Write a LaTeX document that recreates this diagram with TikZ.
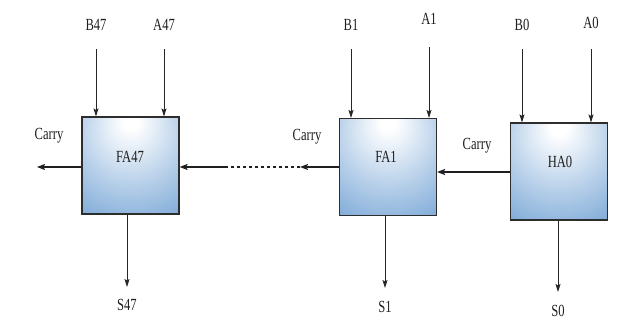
\documentclass[tikz,border=0pt]{standalone}
\usepackage{fontspec}
\setmainfont{Liberation Serif}
\usetikzlibrary{arrows.meta}

\definecolor{bshade}{RGB}{74,136,200}
\definecolor{edgegray}{RGB}{45,45,45}
\pgfdeclareradialshading{blockshade}{\pgfpoint{0bp}{24bp}}{%
  color(0bp)=(white); color(4bp)=(white);
  color(28bp)=(bshade!42); color(50bp)=(bshade!78);
  color(72bp)=(bshade); color(92bp)=(bshade!85!black)}

% condensed label text
\newcommand\cond[1]{\scalebox{0.74}[1]{#1}}

\tikzset{
  block/.style={draw=edgegray, line width=1.1pt, shading=blockshade,
    minimum width=97pt, minimum height=97pt, inner sep=0pt},
  txt/.style={font=\fontsize{17}{19}\selectfont, inner sep=0pt, text=black!88},
  sig/.style={line width=0.75pt, draw=black!85,
    -{Stealth[length=8pt,width=5pt,inset=1.5pt]}},
  carryarrow/.style={line width=1.5pt, draw=black!88,
    -{Stealth[length=8pt,width=6pt,inset=1.5pt]}},
  carryline/.style={line width=1.5pt, draw=black!88,
    dash pattern=on 3pt off 3pt}
}

\begin{document}
\begin{tikzpicture}[x=1pt,y=-1pt]
  \useasboundingbox (0,0) rectangle (636,320);

  % adder blocks
  \node[block] (fa47) at (130.5,165.5) {};
  \node[block] (fa1)  at (388,167) {};
  \node[block] (ha0)  at (559,171.5) {};

  \node[txt] (fa47t) at (130,157) {\cond{FA47}};
  \node[txt] (fa1t)  at (386,157) {\cond{FA1}};
  \node[txt] (ha0t)  at (560,162) {\cond{HA0}};

  % operand inputs
  \node[txt] (b47) at (96,25)  {\cond{B47}};
  \node[txt] (a47) at (164,25) {\cond{A47}};
  \node[txt] (b1)  at (351,25) {\cond{B1}};
  \node[txt] (a1)  at (429,19) {\cond{A1}};
  \node[txt] (b0)  at (522,25) {\cond{B0}};
  \node[txt] (a0)  at (591,23) {\cond{A0}};

  \coordinate (b47s) at (96,49);
  \coordinate (a47s) at (164,49);
  \coordinate (b1s)  at (351,49);
  \coordinate (a1s)  at (429,47);
  \coordinate (b0s)  at (522,49);
  \coordinate (a0s)  at (591,49);

  \draw[sig] (b47s) -- (b47s |- fa47.north);
  \draw[sig] (a47s) -- (a47s |- fa47.north);
  \draw[sig] (b1s)  -- (b1s |- fa1.north);
  \draw[sig] (a1s)  -- (a1s |- fa1.north);
  \draw[sig] (b0s)  -- (b0s |- ha0.north);
  \draw[sig] (a0s)  -- (a0s |- ha0.north);

  % sum outputs
  \node[txt] (s47) at (127,305) {\cond{S47}};
  \node[txt] (s1)  at (385,307) {\cond{S1}};
  \node[txt] (s0)  at (558,311) {\cond{S0}};

  \coordinate (s47e) at (127,287);
  \coordinate (s1e)  at (385,288);
  \coordinate (s0e)  at (558,292);

  \draw[sig] (s47e |- fa47.south) -- (s47e);
  \draw[sig] (s1e |- fa1.south)   -- (s1e);
  \draw[sig] (s0e |- ha0.south)   -- (s0e);

  % carry chain
  \node[txt] (c0t)  at (477,146) {\cond{Carry}};
  \node[txt] (c1t)  at (307,137) {\cond{Carry}};
  \node[txt] (c47t) at (49,136)  {\cond{Carry}};

  \coordinate (hc)   at (510,172);
  \draw[carryarrow] (hc) -- (hc -| fa1.east);

  \coordinate (c1tip) at (300,167);
  \coordinate (gapl)  at (227,167);
  \coordinate (c47out) at (37,167);
  \draw[carryarrow] (fa1.west |- c1tip) -- (c1tip);
  \draw[carryline] (c1tip) -- (gapl);
  \draw[carryarrow] (gapl) -- (fa47.east |- gapl);
  \draw[carryarrow] (fa47.west |- c47out) -- (c47out);
\end{tikzpicture}
\end{document}
